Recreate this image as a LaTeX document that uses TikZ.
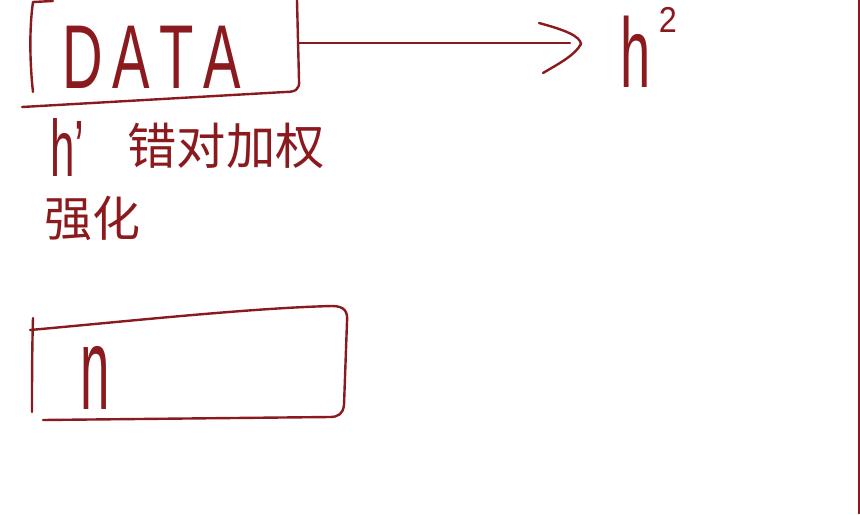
\documentclass[tikz,border=0pt]{standalone}
\usepackage{fontspec}
\setmainfont{Liberation Sans}
\newfontfamily\cjk{Noto Sans CJK SC}
\definecolor{ink}{RGB}{139,26,30}
\begin{document}
\begin{tikzpicture}[x=0.75pt,y=-0.75pt,
  pen/.style={draw=ink,line width=1.8pt,line cap=round,line join=round},
  hand/.style={text=ink,inner sep=0pt,outer sep=0pt}]
\useasboundingbox (0,0) rectangle (860,514);
% top DATA box
\draw[pen] (53,1) -- (33,2) .. controls (29,30) and (30,65) .. (33,92);
\draw[pen] (297,0) -- (299,80) .. controls (300,90) and (295,92) .. (285,92) -- (22,107);
\node[hand] (data) at (152,57) {\fontsize{68}{68}\selectfont\scalebox{0.62}[1]{D\,A\,T\,A}};
\coordinate (dataR) at (299,43);
% h^2 target
\node[hand] (h2) at (636,52) {\fontsize{74}{74}\selectfont\scalebox{0.55}[1]{h}};
\node[hand] (sup) at (668,20) {\fontsize{27}{27}\selectfont\scalebox{0.9}[1]{2}};
\coordinate (tip) at (581,44);
\draw[pen] (dataR) -- (570,43);
\draw[pen] (539,23) .. controls (565,30) and (580,36) .. (tip) .. controls (575,55) and (560,63) .. (543,73);
% notes
\node[hand,anchor=west] (h1) at (50,148) {\fontsize{60}{60}\selectfont\scalebox{0.55}[1]{h'}};
\node[hand] (cuo) at (226,146) {\cjk\fontsize{37}{37}\selectfont 错对加权};
\node[hand] (qh) at (92,218) {\cjk\fontsize{36}{36}\selectfont 强化};
% lower box
\draw[pen] (33,318) .. controls (32,350) and (32,390) .. (32,412);
\draw[pen] (30,330) .. controls (120,322) and (250,308) .. (332,306) .. controls (345,306) and (348,312) .. (347,322) -- (344,405) .. controls (343,414) and (338,417) .. (330,417) -- (43,420);
\node[hand] (n) at (95,378) {\fontsize{88}{88}\selectfont\scalebox{0.45}[1]{n}};
% right edge
\draw[ink,line width=1.5pt] (859,0) -- (859,514);
\end{tikzpicture}
\end{document}
